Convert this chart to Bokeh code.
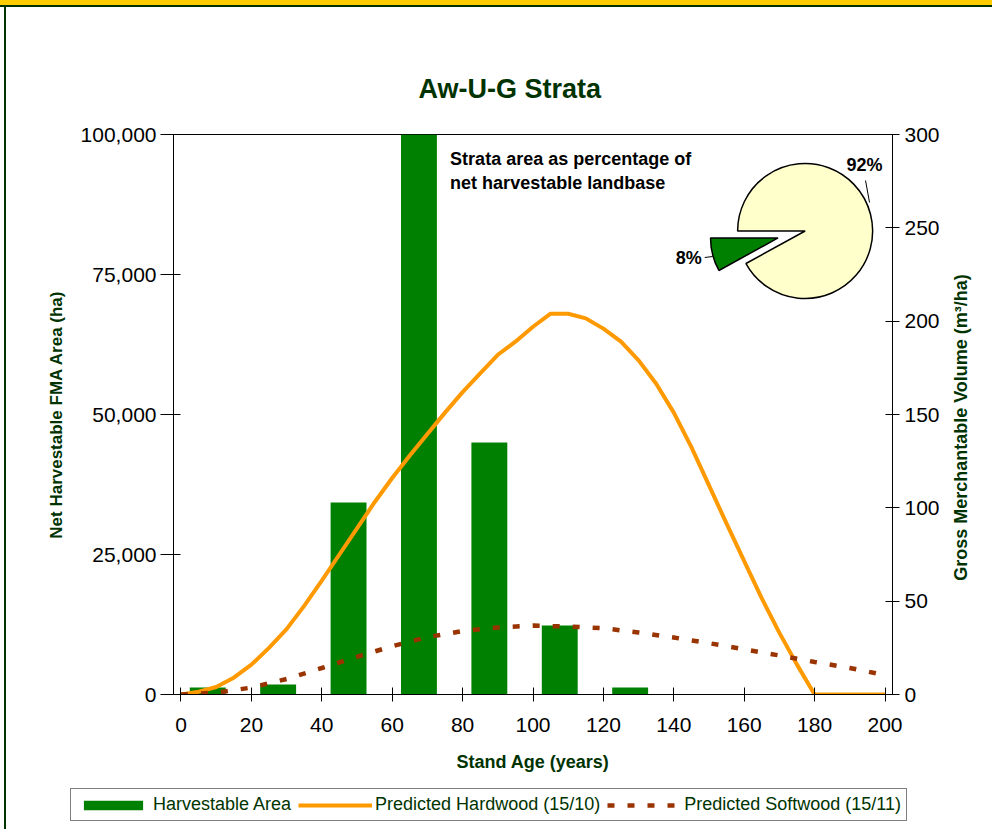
import math
from bokeh.plotting import figure
from bokeh.layouts import column, row
from bokeh.models import (Range1d, LinearAxis, FixedTicker, NumeralTickFormatter,
                          Label, Legend, LegendItem, ColumnDataSource)
from bokeh.transform import dodge
from bokeh.embed import file_html
from bokeh.resources import INLINE

# ---------------- data ----------------
chart_title = "Aw-U-G Strata"
bar_ages = [10, 30, 50, 70, 90, 110, 130]
bar_area = [1250, 1800, 34300, 100500, 45000, 12300, 1250]

hw_ages = list(range(0, 205, 5))
hw_vol = [0, 1.5, 4, 9, 16, 25, 35, 47.5, 61, 75, 89, 103, 116, 128, 139.5,
          151, 162, 172, 182, 189, 197, 204, 204, 201.5, 196, 189, 179, 166.5,
          151, 132.5, 112, 91.5, 71.5, 51.5, 33, 16, 0, 0, 0, 0, 0]

sw_ages = list(range(0, 210, 10))
sw_vol = [0, 1, 3.7, 8.3, 14.2, 20.2, 25.9, 30.7, 34, 35.9, 36.9, 36.4, 35.5,
          33.2, 30.5, 27.5, 24.2, 20.9, 17.4, 14.2, 10.4]

x_ticks = [0, 20, 40, 60, 80, 100, 120, 140, 160, 180, 200]
left_ticks = [0, 25000, 50000, 75000, 100000]
right_ticks = [0, 50, 100, 150, 200, 250, 300]

pie_names = ["8%", "92%"]
pie_values = [8, 92]
pie_colors = ["#008000", "#FFFFCC"]

series_names = ["Harvestable Area", "Predicted Hardwood (15/10)", "Predicted Softwood (15/11)"]
left_label = "Net Harvestable FMA Area (ha)"
right_label = "Gross Merchantable Volume   (m\u00b3/ha)"
x_label = "Stand Age (years)"
pie_text = ["Strata area as percentage of", "net harvestable landbase"]

# ---------------- styling constants ----------------
FONT = "Liberation Sans"
DKGREEN = "#003300"
BAR_GREEN = "#008000"
HW_COLOR = "#FF9900"
SW_COLOR = "#993300"
SW_DASH = "7 13"

p = figure(width=942, height=785, output_backend="svg", toolbar_location=None,
           x_range=Range1d(-2.13, 202.13), y_range=Range1d(0, 100000),
           min_border_left=173, min_border_right=49, min_border_top=134,
           min_border_bottom=91)
p.extra_y_ranges = {"vol": Range1d(0, 300), "py": Range1d(0, 560)}
p.extra_x_ranges = {"px": Range1d(0, 720)}
p.xgrid.visible = False
p.ygrid.visible = False
p.outline_line_color = "black"
p.outline_line_width = 1
p.background_fill_color = "white"
p.border_fill_color = None

# title
p.title.text = chart_title
p.title.align = "left"
p.title.offset = 245
p.title.standoff = 62
p.title.text_font = FONT
p.title.text_font_size = "27px"
p.title.text_font_style = "bold"
p.title.text_color = DKGREEN

# bars
src_b = ColumnDataSource(dict(age=bar_ages, area=bar_area))
p.vbar(x=dodge("age", -2.4, range=p.x_range), top="area", width=10.2,
       source=src_b, fill_color=BAR_GREEN, line_color=None)

# lines
p.line(hw_ages, hw_vol, y_range_name="vol", line_color=HW_COLOR, line_width=4)
p.line(sw_ages, sw_vol, y_range_name="vol", line_color=SW_COLOR,
       line_width=4.5, line_dash=SW_DASH)

# axes
def style_axis(ax, font_size="21px", label_size="17px"):
    ax.major_label_text_font = FONT
    ax.major_label_text_font_size = font_size
    ax.major_label_text_color = "black"
    ax.axis_line_color = "black"
    ax.major_tick_line_color = "black"
    ax.minor_tick_line_color = None
    ax.axis_label_text_font = FONT
    ax.axis_label_text_font_style = "bold"
    ax.axis_label_text_font_size = label_size
    ax.axis_label_text_color = DKGREEN

xa = p.xaxis[0]
xa.ticker = FixedTicker(ticks=x_ticks)
style_axis(xa, label_size="18px")
xa.major_tick_in = 7
xa.major_tick_out = 7
xa.major_label_standoff = 16
xa.axis_label = x_label
xa.axis_label_standoff = 17

ya = p.yaxis[0]
ya.ticker = FixedTicker(ticks=left_ticks)
ya.formatter = NumeralTickFormatter(format="0,0")
style_axis(ya)
ya.major_tick_in = 7
ya.major_tick_out = 13
ya.major_label_standoff = 4
ya.axis_label = left_label
ya.axis_label_standoff = 12

ra = LinearAxis(y_range_name="vol", ticker=FixedTicker(ticks=right_ticks))
style_axis(ra)
ra.major_tick_in = 7
ra.major_tick_out = 7
ra.major_label_standoff = 5
p.add_layout(ra, "right")

# pie (positions in frame pixels)
cx, cy, rad = 632.5, 463.5, 67.5
total = sum(pie_values)
start = math.pi
for i, v in enumerate(pie_values):
    end = start + 2 * math.pi * v / total
    off = 28 if i == 0 else 0
    mid = (start + end) / 2
    p.wedge(x=cx + off * math.cos(mid), y=cy + off * math.sin(mid), radius=rad,
            radius_units="screen", start_angle=start, end_angle=end,
            x_range_name="px", y_range_name="py",
            fill_color=pie_colors[i], line_color="black", line_width=1.5)
    start = end

p.line([532, 540], [437, 438], x_range_name="px", y_range_name="py", line_color="black", line_width=1)
p.line([693, 697], [514, 492], x_range_name="px", y_range_name="py", line_color="black", line_width=1)

def add_label(fig, x, y, text, size, color="black", bold=True, align="center", angle=0, xr="px", yr="py"):
    fig.add_layout(Label(x=x, y=y, x_range_name=xr, y_range_name=yr, text=text,
                         text_font=FONT, text_font_size=size,
                         text_font_style="bold" if bold else "normal",
                         text_color=color, text_align=align, text_baseline="middle",
                         angle=angle))

add_label(p, 516, 437, pie_names[0], "18px")
add_label(p, 692, 530, pie_names[1], "18px")
add_label(p, 277, 536, pie_text[0], "18px", align="left")
add_label(p, 277, 512, pie_text[1], "18px", align="left")

# ---------------- right-hand axis title strip ----------------
rf = figure(width=50, height=785, output_backend="svg", toolbar_location=None,
            x_range=Range1d(0, 50), y_range=Range1d(0, 785), min_border=0,
            x_axis_location=None, y_axis_location=None)
try:
    rf.frame_align = False
except Exception:
    pass
rf.xgrid.visible = False
rf.ygrid.visible = False
rf.outline_line_color = None
rf.border_fill_color = None
rf.background_fill_color = None
add_label(rf, 18, 363, right_label, "18px", color=DKGREEN, angle=math.pi / 2,
          xr="default", yr="default")

# ---------------- legend strip ----------------
# its ranges are far from the data, so its series stay out of view and only feed the legend
leg = figure(width=992, height=44, output_backend="svg", toolbar_location=None,
             x_range=Range1d(5000, 5001), y_range=Range1d(5e6, 5e6 + 1), min_border=0,
             x_axis_location=None, y_axis_location=None)
try:
    leg.frame_align = False
except Exception:
    pass
leg.xgrid.visible = False
leg.ygrid.visible = False
leg.outline_line_color = None
leg.border_fill_color = None
leg.background_fill_color = None
lb = leg.vbar(x=bar_ages, top=bar_area, width=10.2, fill_color=BAR_GREEN, line_color=None)
lh = leg.line(hw_ages, hw_vol, line_color=HW_COLOR, line_width=4)
ls = leg.line(sw_ages, sw_vol, line_color=SW_COLOR, line_width=4.5, line_dash=SW_DASH)

legend = Legend(items=[LegendItem(label=series_names[0], renderers=[lb]),
                       LegendItem(label=series_names[1], renderers=[lh]),
                       LegendItem(label=series_names[2], renderers=[ls])],
                orientation="horizontal", location=(70, 8))
legend.glyph_width = 74
legend.glyph_height = 12
legend.label_text_font = FONT
legend.label_text_font_size = "18px"
legend.label_text_color = DKGREEN
legend.label_standoff = 3
legend.spacing = 7
legend.padding = 5
legend.margin = 0
legend.border_line_color = "black"
legend.border_line_width = 1
legend.background_fill_color = "white"
leg.add_layout(legend)

layout = column(row(p, rf, spacing=0), leg, spacing=0)
layout.styles = {"background-color": "white",
                 "box-shadow": "inset 0 5px 0 0 #FFCC00, inset 0 7px 0 0 #003300, "
                               "inset 4px 0 0 0 #FFFFFF, inset 6px 0 0 0 #003300"}

open("out.html", "w").write(file_html(layout, INLINE))
